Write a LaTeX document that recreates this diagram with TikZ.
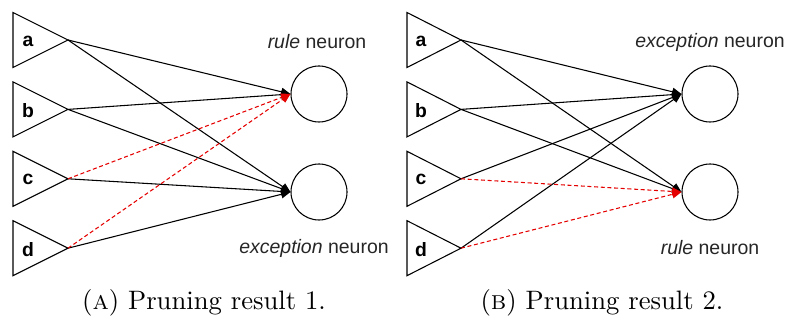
\documentclass[tikz,border=0pt]{standalone}
\usepackage{fontspec}
\newfontfamily\labfont{Liberation Sans}
\newfontfamily\capfont{lmroman10-regular.otf}[SmallCapsFont=lmromancaps10-regular.otf]
\usetikzlibrary{arrows.meta}
\begin{document}
\begin{tikzpicture}[x=0.75pt,y=-0.75pt,
  tri/.style={draw=black,line width=0.8pt,line join=miter},
  letter/.style={font=\labfont\bfseries\fontsize{14.5}{16}\selectfont,inner sep=0pt},
  lab/.style={font=\labfont\fontsize{14.6}{17}\selectfont,inner sep=0pt,text=black!85},
  neuron/.style={circle,draw=black,line width=0.8pt,minimum size=42pt,inner sep=0pt},
  conn/.style={draw=black,line width=0.8pt,-{Triangle[length=7pt,width=6pt]}},
  pruned/.style={draw=red!90!black,line width=0.8pt,dashed,dash pattern=on 3pt off 2pt,-{Triangle[length=7pt,width=6pt]}},
  capt/.style={font=\capfont\fontsize{20}{24}\selectfont,inner sep=0pt}]
\useasboundingbox (0,0) rectangle (791,323);
% left panel
\foreach \n [count=\i from 0] in {a,b,c,d} {
  \coordinate (L\n) at (68,{40+69.4*\i});
  \draw[tri] (13,{12.5+69.4*\i}) -- (L\n) -- (13,{67.5+69.4*\i}) -- cycle;
  \node[letter] (Lt\n) at (28,{41+69.4*\i}) {\n};
}
\node[neuron] (Lr) at (319,94) {};
\node[neuron] (Le) at (319,192) {};
\node[lab] (Llr) at (317,42) {\textit{rule} neuron};
\node[lab] (Lle) at (314,248) {\textit{exception} neuron};
\draw[conn] (La) -- (Lr.west);
\draw[conn] (La) -- (Le.west);
\draw[conn] (Lb) -- (Lr.west);
\draw[conn] (Lb) -- (Le.west);
\draw[conn] (Lc) -- (Le.west);
\draw[conn] (Ld) -- (Le.west);
\draw[pruned] (Lc) -- (Lr.west);
\draw[pruned] (Ld) -- (Lr.west);
% right panel
\foreach \n [count=\i from 0] in {a,b,c,d} {
  \coordinate (R\n) at (461,{40+69.4*\i});
  \draw[tri] (407,{12.5+69.4*\i}) -- (R\n) -- (407,{67.5+69.4*\i}) -- cycle;
  \node[letter] (Rt\n) at (421,{41+69.4*\i}) {\n};
}
\node[neuron] (Rx) at (710,94) {};
\node[neuron] (Rr) at (710,192) {};
\node[lab] (Rlx) at (710,42) {\textit{exception} neuron};
\node[lab] (Rlr) at (710,248) {\textit{rule} neuron};
\draw[conn] (Ra) -- (Rx.west);
\draw[conn] (Ra) -- (Rr.west);
\draw[conn] (Rb) -- (Rx.west);
\draw[conn] (Rb) -- (Rr.west);
\draw[conn] (Rc) -- (Rx.west);
\draw[conn] (Rd) -- (Rx.west);
\draw[pruned] (Rc) -- (Rr.west);
\draw[pruned] (Rd) -- (Rr.west);
% captions
\node[capt] (capA) at (204,303) {(\textsc{a}) Pruning result 1.};
\node[capt] (capB) at (602,303) {(\textsc{b}) Pruning result 2.};
\end{tikzpicture}
\end{document}
